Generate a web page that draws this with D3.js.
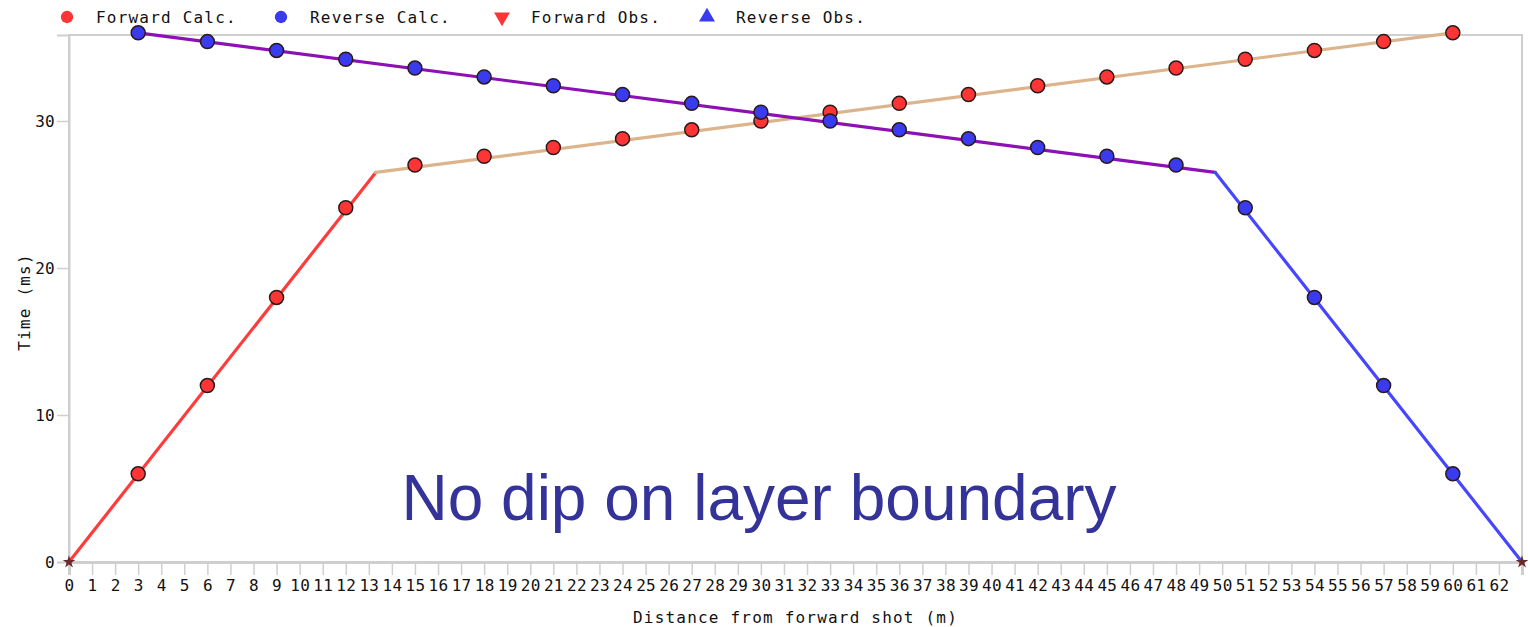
<!DOCTYPE html>
<html>
<head>
<meta charset="utf-8">
<script src="https://cdn.jsdelivr.net/npm/d3@7"></script>
<style>
  body { margin: 0; background: #fff; }
  text { font-family: "DejaVu Sans Mono", monospace; font-size: 16px; fill: #111; }
</style>
</head>
<body>
<div id="chart"></div>
<script>
// Data
const calcX = [3, 6, 9, 12, 15, 18, 21, 24, 27, 30, 33, 36, 39, 42, 45, 48, 51, 54, 57, 60];
const forwardCalc = [6, 12, 18, 24.1, 27, 27.6, 28.2, 28.8, 29.4, 30, 30.6, 31.2, 31.8, 32.4, 33, 33.6, 34.2, 34.8, 35.4, 36];
const reverseCalc = [36, 35.4, 34.8, 34.2, 33.6, 33, 32.4, 31.8, 31.2, 30.6, 30, 29.4, 28.8, 28.2, 27.6, 27, 24.1, 18, 12, 6];
// travel time line segments (distance, time)
const forwardDirect = [[0, 0], [13.3, 26.5]];
const forwardRefr = [[13.3, 26.5], [60, 36]];
const reverseDirect = [[49.7, 26.5], [63, 0]];
const reverseRefr = [[3, 36], [49.7, 26.5]];
const shots = [0, 63];
const xTicks = d3.range(0, 63);
const yTicks = [0, 10, 20, 30];
const legendItems = ["Forward Calc.", "Reverse Calc.", "Forward Obs.", "Reverse Obs."];

const W = 1528, H = 627;
const margin = {top: 35, right: 6, bottom: 65, left: 69};

const svg = d3.select("#chart").append("svg")
  .attr("width", W).attr("height", H);

const x = d3.scaleLinear().domain([0, 63]).range([margin.left, W - margin.right]);
const y = d3.scaleLinear().domain([0, 35.85]).range([H - margin.bottom, margin.top]);

// frame
const frame = "#cfcfcf";
svg.append("rect")
  .attr("x", x(0)).attr("y", y(35.85))
  .attr("width", x(63) - x(0)).attr("height", y(0) - y(35.85))
  .attr("fill", "none").attr("stroke", frame).attr("stroke-width", 2);

// x axis
const xAxis = svg.append("g")
  .attr("transform", "translate(0," + y(0) + ")")
  .call(d3.axisBottom(x).tickValues(xTicks).tickFormat(d3.format("d")).tickSize(13).tickPadding(5));
xAxis.select(".domain").attr("stroke", frame).attr("stroke-width", 3);
xAxis.selectAll(".tick line").attr("stroke", frame).attr("stroke-width", 1.5);
xAxis.selectAll("text").attr("fill", "#111").style("font-size", "16px").style("letter-spacing", "0.3px");

// y axis
const yAxis = svg.append("g")
  .attr("transform", "translate(" + x(0) + ",0)")
  .call(d3.axisLeft(y).tickValues(yTicks).tickSize(12).tickPadding(2));
yAxis.select(".domain").attr("stroke", frame).attr("stroke-width", 2);
yAxis.selectAll(".tick line").attr("stroke", frame).attr("stroke-width", 1.5);
yAxis.selectAll("text").attr("fill", "#111").style("font-size", "16px").style("letter-spacing", "0.3px");

// axis titles
svg.append("text")
  .attr("x", (x(0) + x(63)) / 2).attr("y", 623)
  .attr("text-anchor", "middle").style("letter-spacing", "1.2px")
  .text("Distance from forward shot (m)");
svg.append("text")
  .attr("transform", "translate(30," + 302 + ") rotate(-90)")
  .attr("text-anchor", "middle").style("letter-spacing", "1.2px")
  .text("Time (ms)");

// lines
const line = d3.line().x(d => x(d[0])).y(d => y(d[1]));
const drawLine = (data, color) => svg.append("path").datum(data)
  .attr("d", line).attr("fill", "none").attr("stroke", color)
  .attr("stroke-width", 3.2).attr("stroke-linecap", "round");
drawLine(forwardDirect, "#ff3c3c");
drawLine(forwardRefr, "#dcb48c");
drawLine(reverseRefr, "#8c10b4");
drawLine(reverseDirect, "#4646ff");

// shot markers
svg.selectAll(".shot").data(shots).enter().append("path")
  .attr("d", d3.symbol().type(d3.symbolStar).size(50))
  .attr("transform", d => "translate(" + x(d) + "," + y(0) + ")")
  .attr("fill", "#6b2a2a");

// calculated points
const drawPts = (vals, color) => svg.append("g").selectAll("circle")
  .data(calcX).enter().append("circle")
  .attr("cx", d => x(d)).attr("cy", (d, i) => y(vals[i]))
  .attr("r", 7).attr("fill", color)
  .attr("stroke", "#2a1a1a").attr("stroke-width", 1.5);
drawPts(forwardCalc, "#ff3535");
drawPts(reverseCalc, "#3a3aef");

// legend
const lg = svg.append("g");
const lx = [67, 281, 502, 707];
const lcol = ["#ff3535", "#3a3aef", "#ff3535", "#3a3aef"];
const lsym = [d3.symbolCircle, d3.symbolCircle, d3.symbolTriangle, d3.symbolTriangle];
legendItems.forEach((t, i) => {
  lg.append("path")
    .attr("d", d3.symbol().type(lsym[i]).size(i < 2 ? 120 : 110))
    .attr("transform", "translate(" + lx[i] + ",17)" + (i === 2 ? " rotate(180)" : ""))
    .attr("fill", lcol[i]);
  lg.append("text")
    .attr("x", lx[i] + 29).attr("y", 23)
    .style("letter-spacing", "1.2px")
    .text(t);
});

// annotation
svg.append("text")
  .attr("x", 759).attr("y", 520)
  .attr("text-anchor", "middle")
  .style("font-family", "'Liberation Sans', Arial, sans-serif")
  .style("font-size", "64px")
  .style("fill", "#333399")
  .text("No dip on layer boundary");
</script>
</body>
</html>
